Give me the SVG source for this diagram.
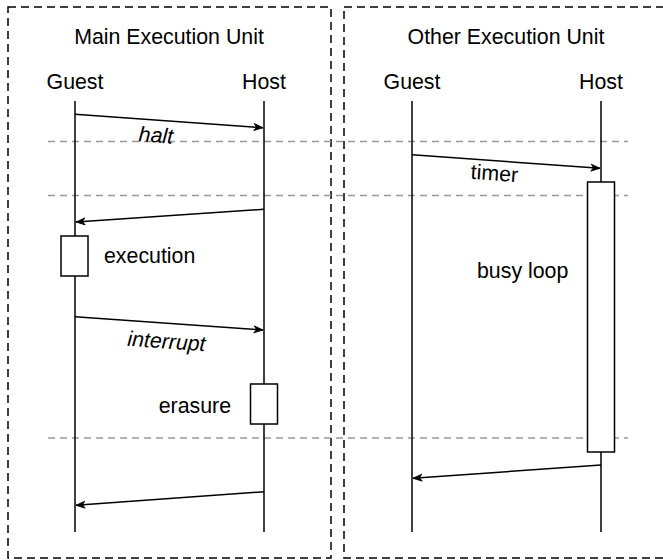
<svg xmlns="http://www.w3.org/2000/svg" width="663" height="560" viewBox="0 0 663 560">
  <style>
    text { font-family: "Liberation Sans", Arial, sans-serif; font-size: 21.33px; fill: #000; }
    .mid { text-anchor: middle; }
    .end { text-anchor: end; }
    .ital { font-style: italic; }
    .frame { fill: none; stroke: #000; stroke-width: 1.5; stroke-dasharray: 8 5; }
    .phase { fill: none; stroke: #999; stroke-width: 1.3; stroke-dasharray: 7 5; }
    .life { fill: none; stroke: #000; stroke-width: 1.5; }
    .act { fill: #fff; stroke: #000; stroke-width: 1.5; }
    .msg { fill: none; stroke: #000; stroke-width: 1.5; marker-end: url(#arrow); }
  </style>
  <defs>
    <marker id="arrow" viewBox="-10 -5 11 10" refX="0" refY="0" markerWidth="11" markerHeight="10" markerUnits="userSpaceOnUse" orient="auto">
      <path d="M0,0 L-9,-3.5 L-6.5,0 L-9,3.5 Z" fill="#000" stroke="#000" stroke-width="0.8" stroke-linejoin="miter"/>
    </marker>
  </defs>
  <rect width="663" height="560" fill="#fff"/>

  <!-- execution unit frames -->
  <g id="main-unit">
    <rect class="frame" x="8" y="7" width="323" height="551"/>
    <text class="mid" x="169" y="44">Main Execution Unit</text>
  </g>
  <g id="other-unit">
    <rect class="frame" x="344" y="7" width="326" height="551"/>
    <text class="mid" x="506" y="44">Other Execution Unit</text>
  </g>

  <!-- phase separators -->
  <g id="phases">
    <line class="phase" x1="48" y1="141.5" x2="628" y2="141.5"/>
    <line class="phase" x1="48" y1="195.5" x2="628" y2="195.5"/>
    <line class="phase" x1="48" y1="438" x2="628" y2="438"/>
  </g>

  <!-- lifelines -->
  <g id="main-guest">
    <text class="mid" x="75" y="89">Guest</text>
    <line class="life" x1="75" y1="101" x2="75" y2="532"/>
  </g>
  <g id="main-host">
    <text class="mid" x="264" y="89">Host</text>
    <line class="life" x1="264" y1="101" x2="264" y2="532"/>
  </g>
  <g id="other-guest">
    <text class="mid" x="412" y="89">Guest</text>
    <line class="life" x1="412" y1="101" x2="412" y2="532"/>
  </g>
  <g id="other-host">
    <text class="mid" x="601" y="89">Host</text>
    <line class="life" x1="601" y1="101" x2="601" y2="532"/>
  </g>

  <!-- activations -->
  <g id="execution">
    <rect class="act" x="61" y="236" width="27" height="40"/>
    <text x="104" y="263">execution</text>
  </g>
  <g id="erasure">
    <rect class="act" x="250.5" y="384" width="27" height="40"/>
    <text class="end" x="231" y="412.5">erasure</text>
  </g>
  <g id="busy-loop">
    <rect class="act" x="587.5" y="182" width="27" height="270"/>
    <text x="477" y="278">busy loop</text>
  </g>

  <!-- messages -->
  <g id="connectors">
    <line class="msg" x1="75" y1="114.3" x2="263" y2="127.7"/>
    <text class="mid ital" x="155.5" y="142.5" transform="rotate(4.1 155.5 142.5)">halt</text>

    <line class="msg" x1="264" y1="209.3" x2="76" y2="222"/>

    <line class="msg" x1="75" y1="316.7" x2="263" y2="330"/>
    <text class="mid ital" x="166" y="348.5" transform="rotate(4.1 166 348.5)">interrupt</text>

    <line class="msg" x1="264" y1="491.7" x2="76" y2="505.3"/>

    <line class="msg" x1="412" y1="154.7" x2="600" y2="168.3"/>
    <text class="mid" x="494" y="180.5" transform="rotate(4.1 494 180.5)">timer</text>

    <line class="msg" x1="601" y1="465" x2="413" y2="478.3"/>
  </g>
</svg>
